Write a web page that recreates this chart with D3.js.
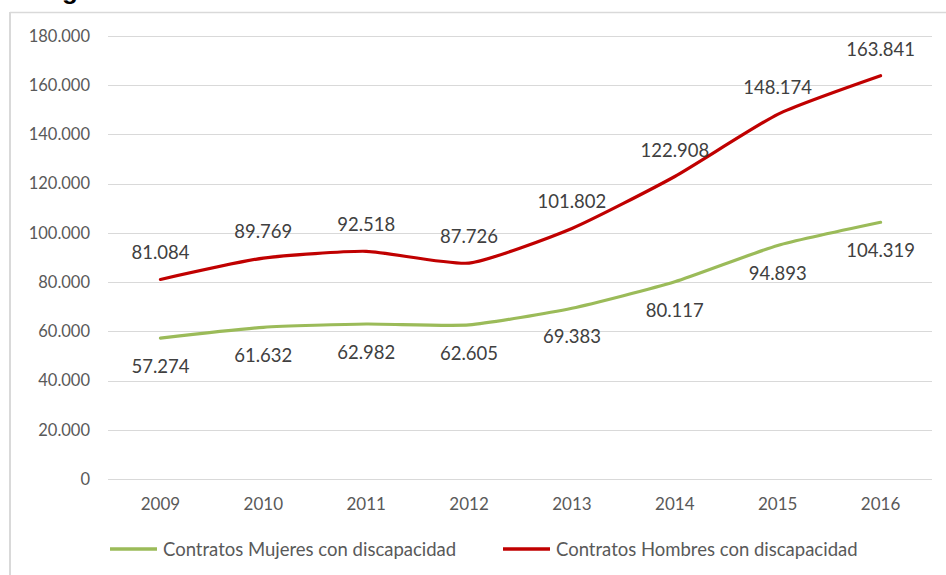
<!DOCTYPE html>
<html><head><meta charset="utf-8">
<script src="https://cdn.jsdelivr.net/npm/d3@7"></script>
<style>html,body{margin:0;padding:0;background:#fff;}svg{display:block;}</style>
</head><body>
<script>
const years = ["2009","2010","2011","2012","2013","2014","2015","2016"];
const mujeres = [57274, 61632, 62982, 62605, 69383, 80117, 94893, 104319];
const hombres = [81084, 89769, 92518, 87726, 101802, 122908, 148174, 163841];
const yTicks = [0, 20000, 40000, 60000, 80000, 100000, 120000, 140000, 160000, 180000];
const seriesNames = ["Contratos Mujeres con discapacidad", "Contratos Hombres con discapacidad"];
const seriesColors = ["#9BBB59", "#C00000"];

const W = 946, H = 575;
const svg = d3.select("body").append("svg").attr("width", W).attr("height", H);
const font = "Lato, 'Open Sans', sans-serif";
const fmt = v => v === 0 ? "0" : d3.format(",.0f")(v).replace(/,/g, ".");
const fmtL = v => d3.format(",.0f")(v).replace(/,/g, ".");

// partial title glyph at top (cut off, as in the source image)
svg.append("text").attr("x", 62).attr("y", -1).attr("font-family", "Arial, 'Liberation Sans', sans-serif")
  .attr("font-weight", "bold").attr("font-size", 26).attr("fill", "#000").text("g");

// frame
svg.append("line").attr("x1", 10).attr("x2", W).attr("y1", 12.5).attr("y2", 12.5).attr("stroke", "#D9D9D9").attr("stroke-width", 1.5);
svg.append("line").attr("x1", 10).attr("x2", 10).attr("y1", 12).attr("y2", H).attr("stroke", "#D9D9D9").attr("stroke-width", 2);

const x = d3.scaleBand().domain(years).range([109, 932]);
const y = d3.scaleLinear().domain([0, 180000]).range([479, 36]);
const cx = d => x(d) + x.bandwidth() / 2;

// gridlines
svg.append("g").selectAll("line").data(yTicks).join("line")
  .attr("x1", 108).attr("x2", 932)
  .attr("y1", d => Math.round(y(d)) + 0.5).attr("y2", d => Math.round(y(d)) + 0.5)
  .attr("stroke", "#D9D9D9").attr("stroke-width", 1);

// y axis labels
const yAxis = d3.axisLeft(y).tickValues(yTicks).tickFormat(fmt).tickSize(0).tickPadding(0);
const gy = svg.append("g").attr("transform", "translate(90,0)").call(yAxis);
gy.select(".domain").remove();
gy.selectAll("text").attr("font-family", font).attr("font-size", 16.5).attr("fill", "#595959");

// x axis labels
const xAxis = d3.axisBottom(x).tickSize(0).tickPadding(0);
const gx = svg.append("g").attr("transform", "translate(0,498)").call(xAxis);
gx.select(".domain").remove();
gx.selectAll("text").attr("font-family", font).attr("font-size", 17).attr("fill", "#595959");

const line = d3.line().x((d, i) => cx(years[i])).y(d => y(d)).curve(d3.curveCardinal.tension(0.45));
[mujeres, hombres].forEach((s, k) => {
  svg.append("path").datum(s).attr("d", line).attr("fill", "none")
    .attr("stroke", seriesColors[k]).attr("stroke-width", 3.2).attr("stroke-linecap", "round").attr("stroke-linejoin", "round");
});

// data labels
const lbl = (s, off) => svg.append("g").selectAll("text").data(s).join("text")
  .attr("x", (d, i) => cx(years[i])).attr("y", d => y(d) + off)
  .attr("text-anchor", "middle").attr("dominant-baseline", "central")
  .attr("font-family", font).attr("font-size", 18.5).attr("fill", "#404040").text(fmtL);
lbl(mujeres, 28);
lbl(hombres, -27);

// legend
const legX = [110, 503];
seriesNames.forEach((n, k) => {
  svg.append("line").attr("x1", legX[k]).attr("x2", legX[k] + 47).attr("y1", 549).attr("y2", 549)
    .attr("stroke", seriesColors[k]).attr("stroke-width", 3.5);
  svg.append("text").attr("x", legX[k] + 53).attr("y", 549).attr("dominant-baseline", "central")
    .attr("font-family", font).attr("font-size", 18.5).attr("fill", "#595959").text(n);
});
</script>
</body></html>
